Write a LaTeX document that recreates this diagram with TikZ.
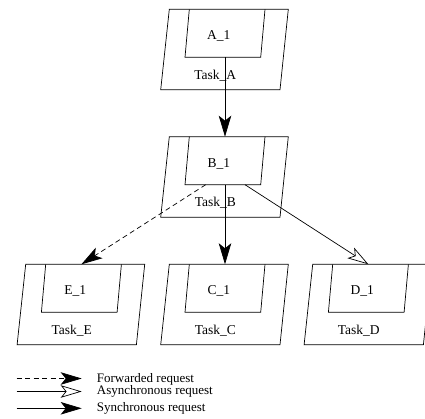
\documentclass[tikz,border=0pt]{standalone}
\usepackage{fontspec}
\setmainfont{Liberation Serif}
\usetikzlibrary{arrows.meta}
\tikzset{
  box/.style={draw=black, line width=0.7pt, line join=miter},
  lbl/.style={inner sep=0pt, font=\fontsize{13.5}{16}\selectfont},
  legtxt/.style={inner sep=0pt, anchor=west, font=\fontsize{13}{16}\selectfont},
  conn/.style={draw=black, line width=0.7pt},
  syncarrow/.style={conn, -{Stealth[length=21pt,width=12.5pt,inset=5pt]}},
  asyncarrow/.style={conn, -{Stealth[open,length=21pt,width=12.5pt,inset=5pt]}},
  fwdarrow/.style={conn, dash pattern=on 5pt off 3.5pt, -{Stealth[length=21pt,width=12.5pt,inset=5pt]}}
}
\newcommand{\taskbox}[4]{%
  \begin{scope}[shift={(#2,#3)}]
    \draw[box] (0,0) -- (119,0) -- (110.7,80.5) -- (-8.6,80.5) -- cycle;
    \draw[box] (20,0) -- (15.7,48) -- (91.4,48) -- (95.7,0);
    \node[lbl] (#1in) at (49.5,27) {#4\_1};
    \node[lbl] (#1out) at (46,66) {Task\_#4};
    \coordinate (#1top) at (55.7,0);
    \coordinate (#1bot) at (55.7,48);
    \coordinate (#1botl) at (36.4,48);
    \coordinate (#1botr) at (75.7,48);
  \end{scope}}
\begin{document}
\begin{tikzpicture}[x=1pt,y=-1pt]
  \useasboundingbox (0,0) rectangle (425,419);
  \taskbox{a}{169.3}{9.3}{A}
  \taskbox{b}{169.3}{136.7}{B}
  \taskbox{e}{25.7}{264.3}{E}
  \taskbox{c}{169.3}{264.3}{C}
  \taskbox{d}{312.7}{264.3}{D}
  \draw[syncarrow] (abot) -- (btop);
  \draw[syncarrow] (bbot) -- (ctop);
  \draw[fwdarrow] (bbotl) -- (etop);
  \draw[asyncarrow] (bbotr) -- (dtop);
  % legend
  \coordinate (l1s) at (16.7,378.5); \coordinate (l1e) at (81.7,378.5);
  \coordinate (l2s) at (16.7,391.5); \coordinate (l2e) at (81.7,391.5);
  \coordinate (l3s) at (16.7,408.3); \coordinate (l3e) at (81.7,408.3);
  \draw[fwdarrow] (l1s) -- (l1e);
  \draw[asyncarrow] (l2s) -- (l2e);
  \draw[syncarrow] (l3s) -- (l3e);
  \node[legtxt] (t1) at (96.7,379) {Forwarded request};
  \node[legtxt] (t2) at (96.7,391.7) {Asynchronous request};
  \node[legtxt] (t3) at (96.7,408.3) {Synchronous request};
\end{tikzpicture}
\end{document}
